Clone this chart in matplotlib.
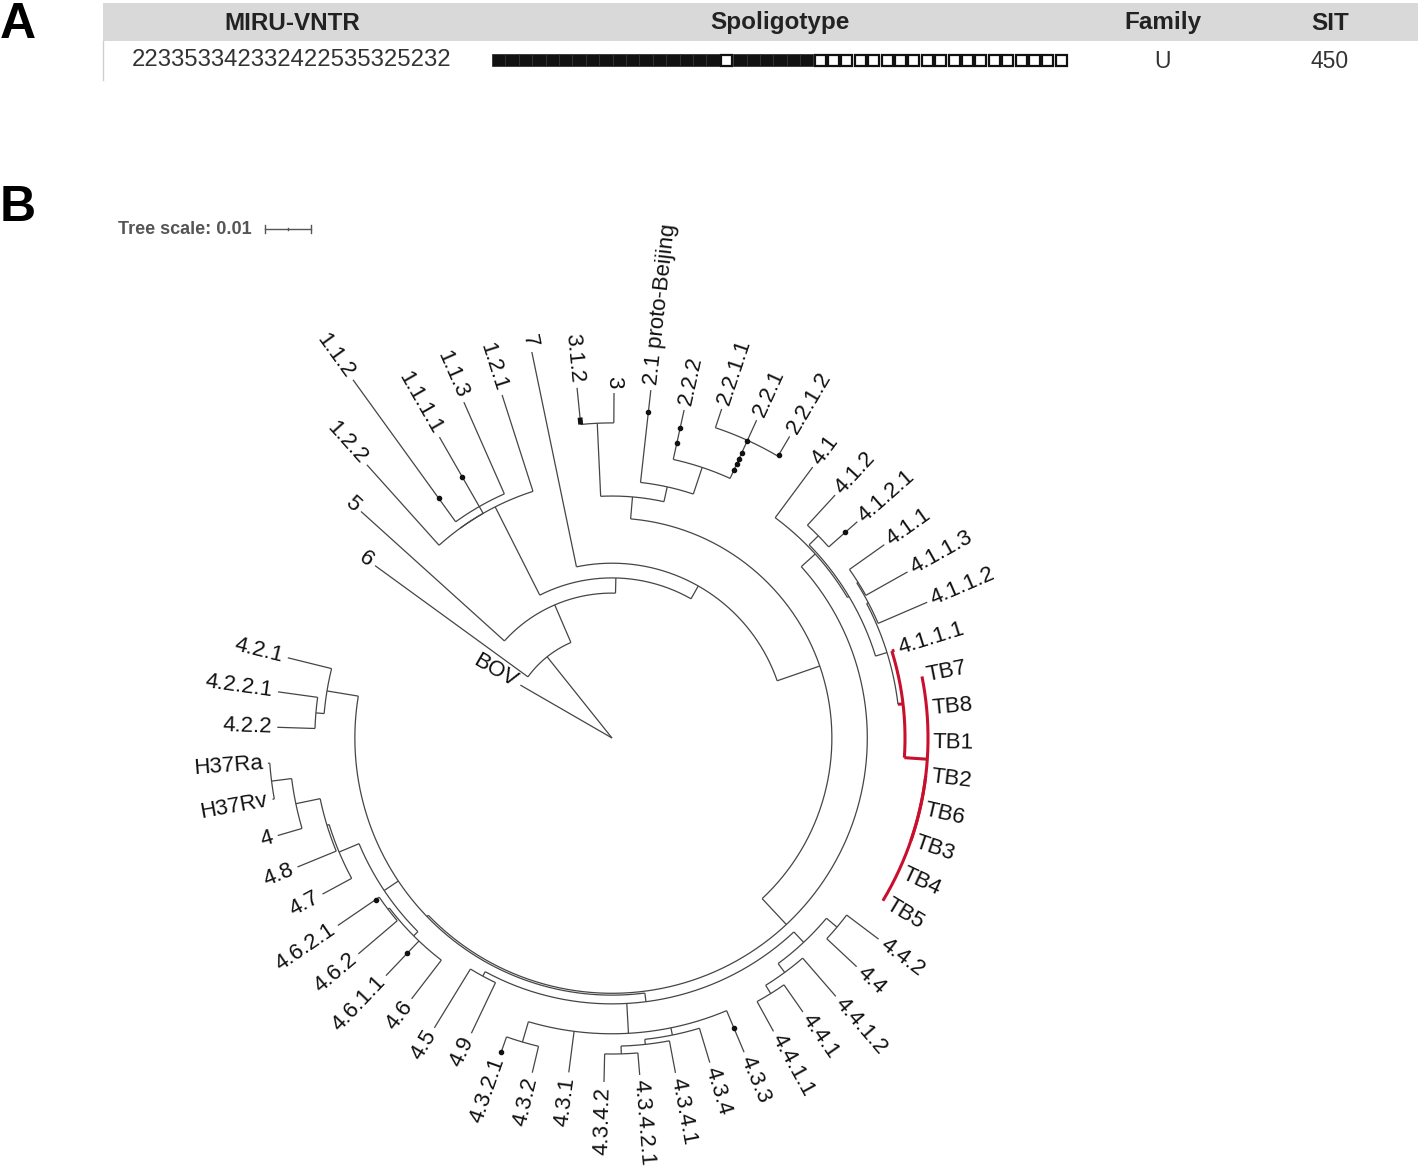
import numpy as np
import matplotlib.pyplot as plt
from matplotlib.patches import Rectangle

plt.rcParams['font.family'] = ['Liberation Sans', 'DejaVu Sans']

# ---- Panel A: typing of the isolate ----
headers = ['MIRU-VNTR', 'Spoligotype', 'Family', 'SIT']
miru_vntr = '223353342332422535325232'
spoligotype = '1111111111111111101111110000000000000000000'  # 43 spacers
family = 'U'
sit = '450'

# ---- Panel B: lineage tree (branch distances in 1e-3 subst/site) ----
leaf_order = ['BOV', '6', '5', '1.2.2', '1.1.2', '1.1.1.1', '1.1.3', '1.2.1', '7',
              '3.1.2', '3', '2.1', '2.2.2', '2.2.1.1', '2.2.1', '2.2.1.2',
              '4.1', '4.1.2', '4.1.2.1', '4.1.1', '4.1.1.3', '4.1.1.2', '4.1.1.1',
              'TB7', 'TB8', 'TB1', 'TB2', 'TB6', 'TB3', 'TB4', 'TB5',
              '4.4.2', '4.4', '4.4.1.2', '4.4.1', '4.4.1.1',
              '4.3.3', '4.3.4', '4.3.4.1', '4.3.4.2.1', '4.3.4.2', '4.3.1', '4.3.2', '4.3.2.1',
              '4.9', '4.5', '4.6', '4.6.1.1', '4.6.2', '4.6.2.1', '4.7', '4.8', '4',
              'H37Rv', 'H37Ra', '4.2.2', '4.2.2.1', '4.2.1']
leaf_text = {'2.1': '2.1 proto-Beijing'}

parent = {
    'BOV': 'root', 'A': 'root',
    '6': 'A', 'B': 'A',
    '5': 'B', 'C': 'B',
    'L1': 'C', 'D': 'C',
    'X1': 'L1', '1.2.1': 'L1',
    '1.2.2': 'X1', 'L11': 'X1',
    '1.1.2': 'L11', '1.1.1.1': 'L11', '1.1.3': 'L11',
    '7': 'D', 'E': 'D',
    'L23': 'E', 'L4': 'E',
    'L3': 'L23', 'L2': 'L23',
    '3.1.2': 'L3', '3': 'L3',
    '2.1': 'L2', 'L22': 'L2',
    '2.2.2': 'L22', 'L221': 'L22',
    '2.2.1.1': 'L221', '2.2.1': 'L221', '2.2.1.2': 'L221',
    # lineage 4
    'L4A': 'L4', 'L4B': 'L4',
    '4.1': 'L4A', 'Y41': 'L4A',
    'L412': 'Y41', 'Z41': 'Y41',
    '4.1.2': 'L412', '4.1.2.1': 'L412',
    'W41': 'Z41', 'S': 'Z41',
    'R411': 'W41', '4.1.1.2': 'W41',
    '4.1.1': 'R411', '4.1.1.3': 'R411',
    '4.1.1.1': 'S', 'TBn': 'S',
    'TB7': 'TBn', 'TB8': 'TBn', 'TB1': 'TBn', 'TBs': 'TBn',
    'TB2': 'TBs', 'TB6': 'TBs', 'TB3': 'TBs', 'TB4': 'TBs', 'TB5': 'TBs',
    'N4': 'L4B', 'Q4': 'L4B', 'L42': 'L4B',
    'L44': 'N4', 'L43': 'N4', 'M42': 'N4',
    'N44a': 'L44', 'N44b': 'L44',
    '4.4.2': 'N44a', '4.4': 'N44a',
    '4.4.1.2': 'N44b', 'N441': 'N44b',
    '4.4.1': 'N441', '4.4.1.1': 'N441',
    '4.3.3': 'L43', 'N434': 'L43', '4.3.1': 'L43', 'N432': 'L43',
    '4.3.4': 'N434', 'N4341': 'N434',
    '4.3.4.1': 'N4341', 'N4342': 'N4341',
    '4.3.4.2.1': 'N4342', '4.3.4.2': 'N4342',
    '4.3.2': 'N432', '4.3.2.1': 'N432',
    '4.9': 'M42', '4.5': 'M42',
    'L46': 'Q4', 'L478': 'Q4',
    '4.6': 'L46', '4.6.1.1': 'L46', 'L462': 'L46',
    '4.6.2': 'L462', '4.6.2.1': 'L462',
    '4.7': 'L478', 'N48H': 'L478',
    '4.8': 'N48H', 'N4H': 'N48H',
    '4': 'N4H', 'NH37': 'N4H',
    'H37Rv': 'NH37', 'H37Ra': 'NH37',
    'N422': 'L42', '4.2.1': 'L42',
    '4.2.2': 'N422', '4.2.2.1': 'N422',
}

dist = {
    'root': 0.0, 'BOV': 23.0, 'A': 22.6, '6': 63.7, 'B': 31.5, '5': 73.5, 'C': 34.8,
    'L1': 56.3, 'X1': 56.3, '1.2.2': 79.8, 'L11': 58.0, '1.1.2': 96.1, '1.1.1.1': 75.4,
    '1.1.3': 79.8, '1.2.1': 78.3, 'D': 38.0, '7': 85.7, 'E': 47.8,
    'L23': 52.6, 'L3': 68.5, '3.1.2': 76.5, '3': 75.0, 'L2': 55.9, '2.1': 76.1,
    'L22': 62.0, '2.2.2': 73.0, 'L221': 71.1, '2.2.1.1': 75.4, '2.2.1': 75.9, '2.2.1.2': 76.1,
    'L4': 55.5, 'L4A': 59.6, '4.1': 73.3, 'Y41': 60.0, 'L412': 62.8, '4.1.2': 71.7,
    '4.1.2.1': 71.1, 'Z41': 62.6, 'W41': 63.0, 'R411': 63.3, '4.1.1': 72.6,
    '4.1.1.3': 73.7, '4.1.1.2': 74.6, 'S': 63.7, '4.1.1.1': 64.3, 'TBn': 68.7,
    'TBs': 68.7, 'TB7': 68.7, 'TB8': 68.7, 'TB1': 68.7, 'TB2': 68.7, 'TB6': 68.7,
    'TB3': 68.7, 'TB4': 68.7, 'TB5': 68.7,
    'L4B': 55.9, 'N4': 57.8, 'L44': 60.9, 'N44a': 63.9, '4.4.2': 72.6, '4.4': 72.8,
    'N44b': 63.3, '4.4.1.2': 74.3, 'N441': 65.4, '4.4.1': 72.6, '4.4.1.1': 72.8,
    'L43': 64.3, 'N432': 68.9, '4.3.2.1': 72.6, '4.3.2': 74.8, '4.3.1': 73.3,
    'N434': 65.9, 'N4341': 67.0, 'N4342': 68.7, '4.3.4.2': 74.8, '4.3.4.2.1': 73.5,
    '4.3.4.1': 74.1, '4.3.4': 73.7, '4.3.3': 74.1,
    'M42': 58.9, '4.9': 71.1, '4.5': 73.9,
    'Q4': 59.6, 'L46': 60.9, '4.6': 71.5, '4.6.1.1': 71.3, 'L462': 61.3,
    '4.6.2': 72.4, '4.6.2.1': 72.2,
    'L478': 64.3, '4.7': 71.5, 'N48H': 64.8, '4.8': 73.9, 'N4H': 70.2,
    '4': 75.7, 'NH37': 74.6, 'H37Rv': 75.0, 'H37Ra': 75.0,
    'L42': 62.8, '4.2.1': 72.6, 'N422': 64.6, '4.2.2.1': 73.3, '4.2.2': 72.8,
}

# small dots marked along some branches (node, distance)
dots = [('1.1.2', 64.3), ('1.1.1.1', 65.4), ('2.1', 71.3),
        ('2.2.2', 69.1), ('2.2.2', 65.7), ('L221', 64.1), ('L221', 65.4),
        ('L221', 66.7), ('L221', 68.0), ('L221', 70.9), ('2.2.1.2', 71.5),
        ('4.1.2.1', 67.6), ('4.6.2.1', 62.2), ('4.6.1.1', 64.6),
        ('4.3.2.1', 72.4), ('4.3.3', 68.3)]
# short thick marks on branches (node, from, to)
marks = [('3.1.2', 68.5, 70.0)]
highlight = 'S'   # clade drawn in red (4.1.1.1 + TB isolates)
tree_scale = 0.01

# ---- layout ----
cx, cy = 612, 738
px = 4.6                       # pixels per 1e-3 distance
first_angle, last_angle = 150.0, -193.9
line_col = '#454545'
red = '#c8102e'

fig = plt.figure(figsize=(14.18, 11.69), dpi=100)
ax = fig.add_axes([0, 0, 1, 1])
ax.set_xlim(0, 1418)
ax.set_ylim(1169, 0)
ax.axis('off')

# panel A
ax.add_patch(Rectangle((103, 3), 1315, 38, color='#d9d9d9', lw=0))
ax.plot([103, 103], [41, 80], color='#cfcfcf', lw=1)
header_x = [292, 780, 1163, 1330]
for h, x in zip(headers, header_x):
    ax.text(x, 23, h, ha='center', va='center', fontsize=17.5, fontweight='bold', color='#222222')
ax.text(292, 60, miru_vntr, ha='center', va='center', fontsize=17.2, color='#333333')
ax.text(1163, 61, family, ha='center', va='center', fontsize=16.5, color='#333333')
ax.text(1330, 61, sit, ha='center', va='center', fontsize=16.5, color='#333333')
sq = (1068 - 492) / len(spoligotype)
for i, s in enumerate(spoligotype):
    if s == '1':
        ax.add_patch(Rectangle((492 + i * sq, 54), sq, 12, facecolor='#111111',
                               edgecolor='#333333', lw=0.6))
    else:
        ax.add_patch(Rectangle((492 + i * sq + 1.2, 54.5), sq - 2.4, 11, facecolor='white',
                               edgecolor='#111111', lw=1.6))
ax.text(0, 25, 'A', ha='left', va='center', fontsize=36, fontweight='bold')
ax.text(0, 208, 'B', ha='left', va='center', fontsize=36, fontweight='bold')

# tree scale
ax.text(118, 229, 'Tree scale: %g' % tree_scale, ha='left', va='center', fontsize=13,
        fontweight='bold', color='#555555')
bar = tree_scale * 1000 * px
ax.plot([265, 265 + bar], [229, 229], color='#555555', lw=1)
for x in [265, 265 + bar]:
    ax.plot([x, x], [225, 233], color='#555555', lw=1)
ax.plot([265 + bar / 2] * 2, [228, 230], color='#555555', lw=1)

# tree geometry
children = {}
for c, p in parent.items():
    children.setdefault(p, []).append(c)
step = (first_angle - last_angle) / (len(leaf_order) - 1)
angle = {name: first_angle - i * step for i, name in enumerate(leaf_order)}


def node_angle(n):
    if n not in angle:
        a = [node_angle(c) for c in children[n]]
        angle[n] = (max(a) + min(a)) / 2
    return angle[n]


node_angle('root')

red_set = set()
stack = [highlight]
while stack:
    n = stack.pop()
    red_set.add(n)
    stack.extend(children.get(n, []))


def xy(r, th):
    t = np.radians(th)
    return cx + r * np.cos(t), cy - r * np.sin(t)


for n, p in parent.items():
    th = angle[n]
    x0, y0 = xy(dist[p] * px, th)
    x1, y1 = xy(dist[n] * px, th)
    col, lw = (red, 2.2) if n in red_set else (line_col, 0.9)
    ax.plot([x0, x1], [y0, y1], color=col, lw=lw, solid_capstyle='butt')

for n, ch in children.items():
    if n == 'root':
        continue
    a = [angle[c] for c in ch]
    th = np.linspace(min(a), max(a), 200)
    x, y = xy(dist[n] * px, th)
    col, lw = (red, 2.2) if n in red_set else (line_col, 0.9)
    ax.plot(x, y, color=col, lw=lw, solid_capstyle='butt')

for n, d in dots:
    x, y = xy(d * px, angle[n])
    ax.plot(x, y, 'o', color='#111111', ms=3)
for n, d0, d1 in marks:
    x, y = xy(np.array([d0, d1]) * px, angle[n])
    ax.plot(x, y, color='#111111', lw=3.5, solid_capstyle='butt')

# leaf labels
for n in leaf_order:
    th = (angle[n] + 180) % 360 - 180
    x, y = xy(dist[n] * px + 5, th)
    if -90 < th < 88:
        rot, ha = th, 'left'
    else:
        rot, ha = th - 180, 'right'
    ax.text(x, y, leaf_text.get(n, n), rotation=rot, rotation_mode='anchor',
            ha=ha, va='center', fontsize=16, color='#111111')

fig.savefig('out.png', dpi=100)
